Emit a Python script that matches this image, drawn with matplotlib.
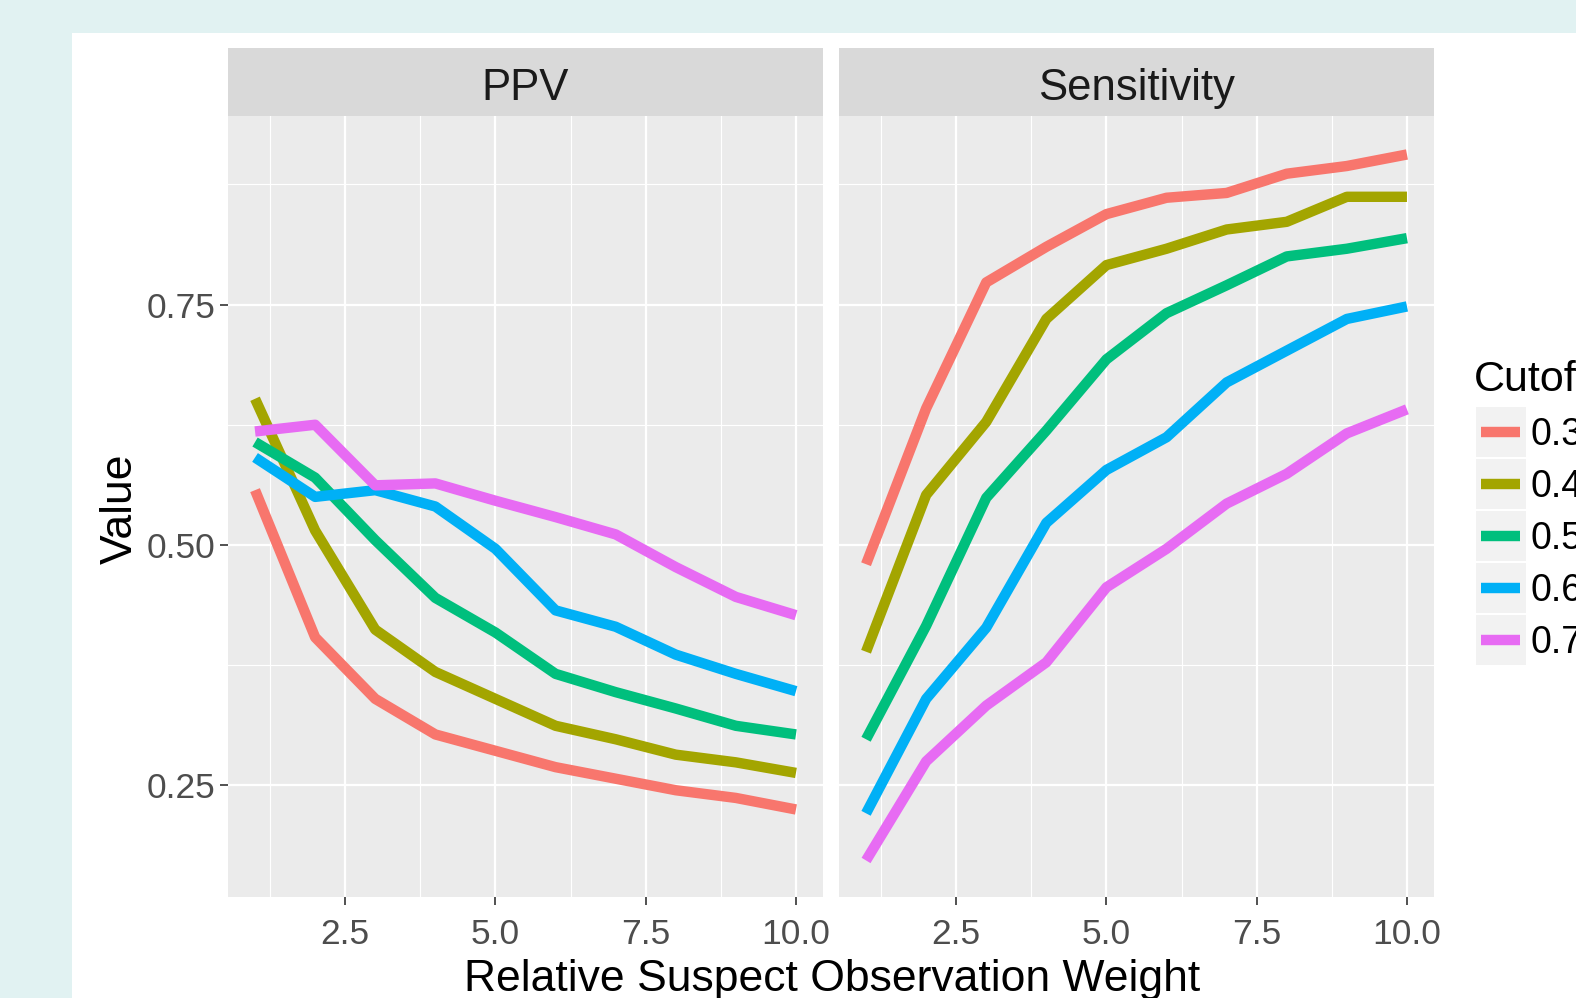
import matplotlib
matplotlib.use("Agg")
import matplotlib.pyplot as plt
from matplotlib.patches import Rectangle
from matplotlib.lines import Line2D

# data
weight = [1, 2, 3, 4, 5, 6, 7, 8, 9, 10]
cutoffs = ["0.3", "0.4", "0.5", "0.6", "0.7"]
colors = ["#F8766D", "#A3A500", "#00BF7D", "#00B0F6", "#E76BF3"]

ppv_03 = [0.557, 0.404, 0.340, 0.303, 0.286, 0.269, 0.257, 0.245, 0.237, 0.225]
ppv_04 = [0.652, 0.515, 0.412, 0.368, 0.340, 0.312, 0.298, 0.282, 0.274, 0.263]
ppv_05 = [0.607, 0.570, 0.505, 0.445, 0.409, 0.366, 0.347, 0.330, 0.312, 0.303]
ppv_06 = [0.591, 0.550, 0.557, 0.540, 0.496, 0.432, 0.415, 0.386, 0.366, 0.348]
ppv_07 = [0.618, 0.625, 0.562, 0.564, 0.546, 0.529, 0.511, 0.477, 0.446, 0.427]

sens_03 = [0.480, 0.642, 0.773, 0.810, 0.844, 0.861, 0.866, 0.886, 0.894, 0.906]
sens_04 = [0.389, 0.552, 0.628, 0.735, 0.791, 0.808, 0.828, 0.836, 0.862, 0.862]
sens_05 = [0.298, 0.416, 0.549, 0.619, 0.693, 0.741, 0.770, 0.800, 0.808, 0.819]
sens_06 = [0.221, 0.340, 0.414, 0.523, 0.578, 0.612, 0.669, 0.702, 0.735, 0.748]
sens_07 = [0.172, 0.275, 0.333, 0.378, 0.456, 0.496, 0.543, 0.574, 0.616, 0.641]

panels = ["PPV", "Sensitivity"]
series = {"PPV": [ppv_03, ppv_04, ppv_05, ppv_06, ppv_07],
          "Sensitivity": [sens_03, sens_04, sens_05, sens_06, sens_07]}

W, H = 1576, 998
plt.rcParams['font.family'] = ['Liberation Sans', 'DejaVu Sans']

fig = plt.figure(figsize=(W / 100, H / 100), dpi=100)
fig.patch.set_facecolor("#e1f2f2")

def fx(px):
    return px / W

def fy(py):
    return 1 - py / H

# white card behind everything
fig.patches.append(Rectangle((fx(72), 0), 1, fy(33), transform=fig.transFigure,
                             facecolor="white", edgecolor="none", zorder=-5))

panel_x = [(228, 823), (839, 1434)]
top, bottom, strip_top = 116, 897, 48

for i, name in enumerate(panels):
    x0, x1 = panel_x[i]
    ax = fig.add_axes([fx(x0), fy(bottom), fx(x1 - x0), (bottom - top) / H])
    ax.set_facecolor("#ebebeb")
    for s in ax.spines.values():
        s.set_visible(False)
    ax.set_xlim(0.55, 10.45)
    ax.set_ylim(0.134, 0.946)
    ax.set_xticks([2.5, 5.0, 7.5, 10.0])
    ax.set_xticks([1.25, 3.75, 6.25, 8.75], minor=True)
    ax.set_yticks([0.25, 0.50, 0.75])
    ax.set_yticks([0.375, 0.625, 0.875], minor=True)
    ax.grid(which="major", color="white", linewidth=1.6)
    ax.grid(which="minor", color="white", linewidth=0.8)
    ax.set_axisbelow(True)
    ax.tick_params(which="minor", length=0)
    ax.tick_params(which="major", length=6, width=1.2, color="#333333",
                   labelsize=25.5, labelcolor="#4d4d4d")
    ax.tick_params(axis="x", pad=9)
    ax.tick_params(axis="y", pad=3)
    ax.set_xticklabels(["2.5", "5.0", "7.5", "10.0"])
    if i == 0:
        ax.set_yticklabels(["0.25", "0.50", "0.75"])
    else:
        ax.tick_params(axis="y", which="both", left=False, labelleft=False)

    for vals, c in zip(series[name], colors):
        ax.plot(weight, vals, color=c, linewidth=7.5, solid_capstyle="butt")

    sax = fig.add_axes([fx(x0), fy(top), fx(x1 - x0), (top - strip_top) / H])
    sax.set_facecolor("#d9d9d9")
    sax.set_xticks([])
    sax.set_yticks([])
    for s in sax.spines.values():
        s.set_visible(False)
    sax.text(0.5, 0.4, name, ha="center", va="center", fontsize=31.5,
             color="#1a1a1a", transform=sax.transAxes)

fig.text(fx(832), fy(980), "Relative Suspect Observation Weight", ha="center",
         va="center", fontsize=32, color="black")
fig.text(fx(120), fy(509), "Value", ha="center", va="center", rotation=90,
         fontsize=32, color="black")

# legend, cut by the right edge like the screenshot
fig.text(fx(1474), fy(380), "Cutoff", ha="left", va="center", fontsize=31)
for k, (lab, c) in enumerate(zip(cutoffs, colors)):
    cy = 432 + k * 52
    fig.patches.append(Rectangle((fx(1476), fy(cy + 25)), fx(50), 50 / H,
                                 transform=fig.transFigure, facecolor="#f2f2f2",
                                 edgecolor="none"))
    fig.lines.append(Line2D([fx(1481), fx(1520)], [fy(cy), fy(cy)],
                            transform=fig.transFigure, color=c, linewidth=7.5,
                            solid_capstyle="butt"))
    fig.text(fx(1531), fy(cy + 3), lab, ha="left", va="center", fontsize=27)

fig.savefig("out.png", dpi=100, facecolor=fig.get_facecolor())
